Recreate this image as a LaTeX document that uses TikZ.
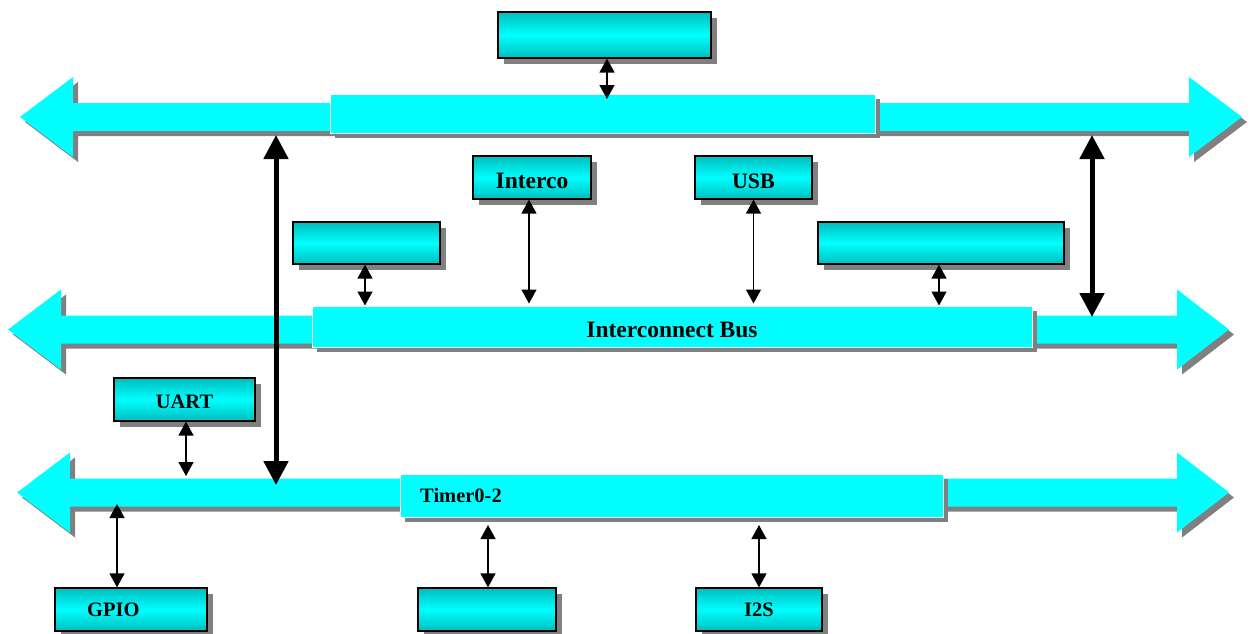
\documentclass[tikz,border=0pt]{standalone}
\usepackage{fontspec}
\setmainfont{Liberation Serif}
\usetikzlibrary{arrows.meta,shadows}

\definecolor{buscyan}{RGB}{0,255,255}
\definecolor{tealdark}{RGB}{0,189,189}
\definecolor{shadowgray}{RGB}{128,128,128}

\newcommand{\lowered}[2]{\raisebox{-#1}[\height][\depth]{#2}}

\tikzset{
  block/.style={draw=black, line width=1.2pt, top color=tealdark, bottom color=tealdark,
    middle color=buscyan, inner sep=0pt,
    drop shadow={shadow xshift=6pt, shadow yshift=-6pt, fill=shadowgray, opacity=1},
    font=\fontsize{20.5}{24}\selectfont\bfseries},
  busbox/.style={draw=white, line width=1pt, fill=buscyan, inner sep=0pt,
    drop shadow={shadow xshift=5pt, shadow yshift=-5pt, fill=shadowgray, opacity=1},
    font=\fontsize{20.5}{24}\selectfont\bfseries},
  biglbl/.style={font=\fontsize{23.5}{26}\selectfont\bfseries},
  link/.style={line width=1.3pt, {Triangle[length=14pt,width=15pt]}-{Triangle[length=14pt,width=15pt]}},
  biglink/.style={line width=5pt, {Triangle[length=24pt,width=24pt]}-{Triangle[length=24pt,width=24pt]}}
}

\begin{document}
\begin{tikzpicture}[x=1pt, y=-1pt]
  \useasboundingbox (0,0) rectangle (1253,633);

  % bus arrows: y / left tip / left base / right base / right tip
  \foreach \y/\lt/\lb/\rb/\rt in {117/20/73/1189/1242, 329.5/8/61/1177/1229, 492.5/17/70/1177/1229} {
    \fill[shadowgray, shift={(5,5)}] (\lt,\y) -- (\lb,\y-40) -- (\lb,\y-14) -- (\rb,\y-14) -- (\rb,\y-40)
      -- (\rt,\y) -- (\rb,\y+40) -- (\rb,\y+14) -- (\lb,\y+14) -- (\lb,\y+40) -- cycle;
    \fill[buscyan] (\lt,\y) -- (\lb,\y-40) -- (\lb,\y-14) -- (\rb,\y-14) -- (\rb,\y-40)
      -- (\rt,\y) -- (\rb,\y+40) -- (\rb,\y+14) -- (\lb,\y+14) -- (\lb,\y+40) -- cycle;
  }

  \node[busbox, minimum width=545pt, minimum height=39pt] (topbus) at (602.5,113.5) {};
  \node[busbox, biglbl, minimum width=720pt, minimum height=41pt] (midbus) at (672,326.5) {\lowered{3.5pt}{Interconnect Bus}};
  \node[busbox, minimum width=543pt, minimum height=43pt] (timer) at (671.5,495.5) {};
  \node[font=\fontsize{20.5}{24}\selectfont\bfseries, anchor=west, inner sep=0pt] (timerlbl) at (420,495) {Timer0-2};

  \node[block, minimum width=213pt, minimum height=46pt] (topblk) at (604.5,35) {};
  \node[block, minimum width=147pt, minimum height=42pt] (leftblk) at (366.5,243) {};
  \node[block, biglbl, minimum width=118pt, minimum height=43pt] (interco) at (532,177.5) {\lowered{3.5pt}{Interco}};
  \node[block, font=\fontsize{22}{24}\selectfont\bfseries, minimum width=117pt, minimum height=43pt] (usb) at (753.5,177.5) {\lowered{3.5pt}{USB}};
  \node[block, minimum width=246pt, minimum height=42pt] (rightblk) at (941,243) {};
  \node[block, minimum width=141pt, minimum height=43pt] (uart) at (184.5,399.5) {\lowered{2.5pt}{UART}};
  \node[block, minimum width=152pt, minimum height=43pt] (gpio) at (131,609.5) {};
  \node[font=\fontsize{20.5}{24}\selectfont\bfseries, anchor=west, inner sep=0pt] (gpiolbl) at (87,610) {GPIO};
  \node[block, minimum width=138pt, minimum height=43pt] (botblk) at (487,609.5) {};
  \node[block, minimum width=126pt, minimum height=43pt] (iis) at (759,609.5) {I2S};

  \coordinate (topend) at (607,99);
  \coordinate (uartend) at (186,476);
  \coordinate (gpioend) at (117,504);
  \coordinate (botend) at (488,525);
  \coordinate (iisend) at (759,525);
  \coordinate (ltop) at (276,135);
  \coordinate (lbot) at (276,485);
  \coordinate (rtop) at (1092,135);
  \coordinate (rbot) at (1092,317);

  \draw[link] (topblk.south -| topend) -- (topend);
  \draw[link] (leftblk.south -| 365,0) -- (midbus.north -| 365,0);
  \draw[link] (interco.south -| 529,0) -- ([yshift=2pt]midbus.north -| 529,0);
  \draw[link] (usb.south) -- ([yshift=2pt]midbus.north -| usb.south);
  \draw[link] (rightblk.south -| 939,0) -- (midbus.north -| 939,0);
  \draw[link] (uart.south -| uartend) -- (uartend);
  \draw[link] (gpioend) -- (gpio.north -| gpioend);
  \draw[link] (botend) -- (botblk.north -| botend);
  \draw[link] (iisend) -- (iis.north);

  \draw[biglink] (ltop) -- (lbot);
  \draw[biglink] (rtop) -- (rbot);

\end{tikzpicture}
\end{document}
